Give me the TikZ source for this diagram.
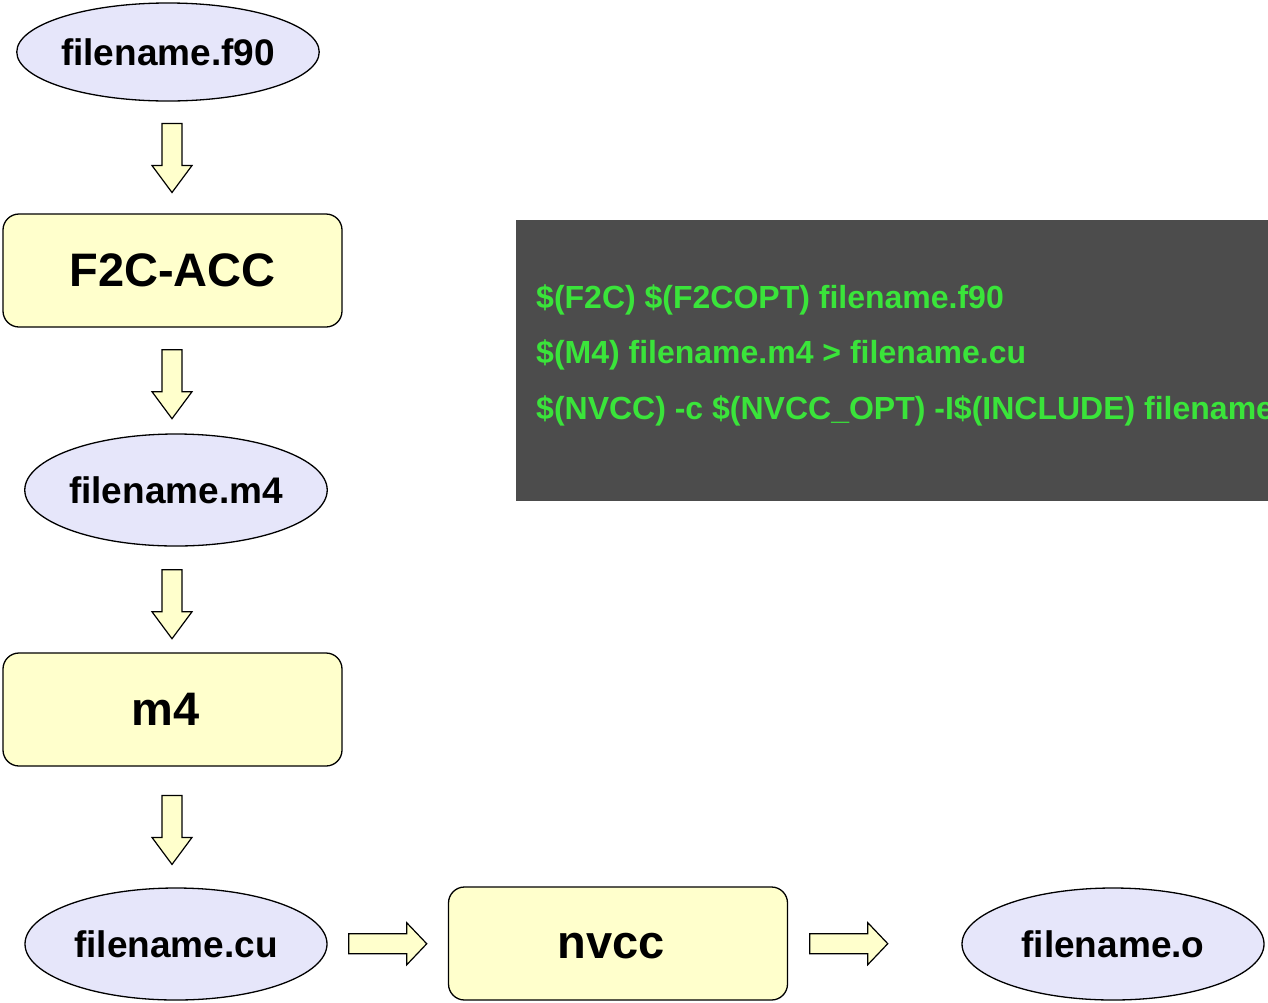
\documentclass[tikz,border=0pt]{standalone}
\usepackage{fontspec}
\setmainfont{Liberation Sans}
\usetikzlibrary{shapes.geometric,calc}
\definecolor{lav}{RGB}{230,230,250}
\definecolor{cream}{RGB}{255,255,204}
\definecolor{darkbg}{RGB}{76,76,76}
\definecolor{termgreen}{RGB}{58,228,58}
\tikzset{
  file/.style={ellipse, draw=black, line width=1.3pt, fill=lav, minimum width=302pt, minimum height=112pt, inner sep=0pt, font=\fontsize{37}{40}\selectfont\bfseries},
  tool/.style={rectangle, rounded corners=16pt, draw=black, line width=1.3pt, fill=cream, minimum width=339pt, minimum height=113pt, inner sep=0pt, font=\fontsize{47}{50}\selectfont\bfseries},
  blockarrow/.style={draw=black, line width=1.2pt, fill=cream, line join=miter},
  cmd/.style={anchor=base west, inner sep=0pt, text=termgreen, font=\fontsize{32}{35}\selectfont\bfseries}
}
\begin{document}
\begin{tikzpicture}[x=1pt,y=-1pt]
\useasboundingbox (0,0) rectangle (1268,1002);
% terminal box
\begin{scope}
\clip (0,0) rectangle (1268,1002);
\fill[darkbg] (516,220) rectangle (1300,501);
\node[cmd] (c1) at (536,308) {\$(F2C) \$(F2COPT) filename.f90};
\node[cmd] (c2) at (536,363) {\$(M4) filename.m4 > filename.cu};
\node[cmd] (c3) at (536,419) {\$(NVCC) -c \$(NVCC\_OPT) -I\$(INCLUDE) filename};
\end{scope}
% nodes
\node[file, minimum height=98pt] (f90) at (168,52) {filename.f90};
\node[tool] (f2c) at (172.5,270.5) {F2C-ACC};
\node[file] (m4f) at (176,490) {filename.m4};
\node[tool] (m4) at (172.5,709.5) {\hspace*{-14pt}\raisebox{-2pt}{m4}};
\node[file] (cu) at (176,944) {filename.cu};
\node[tool] (nvcc) at (618,943.5) {\hspace*{-14pt}\raisebox{-14.5pt}[0pt][0pt]{nvcc}};
\node[file] (obj) at (1113,944) {filename.o};
% block arrows (down)
\foreach \a/\b/\f in {f90/f2c/0.5, f2c/m4f/0.53, m4f/m4/0.54, m4/cu/0.52}{
  \path let \p1=($(\a.south)!\f!(\b.north)$) in coordinate (mid) at (172,\y1);
  \draw[blockarrow] ([shift={(-10,-34)}]mid) -- ([shift={(10,-34)}]mid) -- ([shift={(10,8)}]mid) -- ([shift={(20,8)}]mid) -- ([shift={(0,35)}]mid) -- ([shift={(-20,8)}]mid) -- ([shift={(-10,8)}]mid) -- cycle;
}
% block arrows (right)
\foreach \a/\b/\f in {cu/nvcc/0.5, nvcc/obj/0.35}{
  \coordinate (mid) at ($(\a.east)!\f!(\b.west)$);
  \draw[blockarrow] ([shift={(-39,-10)}]mid) -- ([shift={(19,-10)}]mid) -- ([shift={(19,-21)}]mid) -- ([shift={(39,0)}]mid) -- ([shift={(19,21)}]mid) -- ([shift={(19,10)}]mid) -- ([shift={(-39,10)}]mid) -- cycle;
}
\end{tikzpicture}
\end{document}
